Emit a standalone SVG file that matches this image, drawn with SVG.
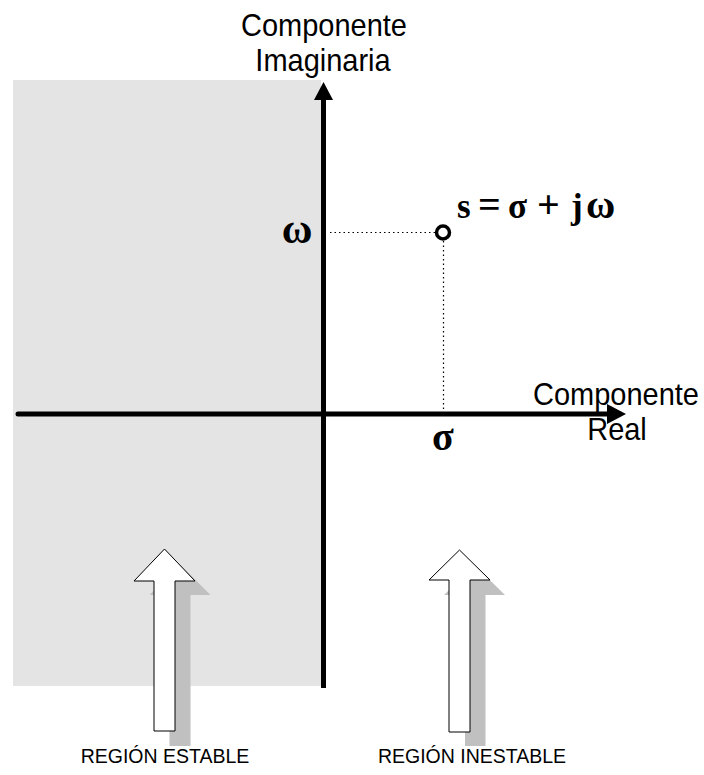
<svg xmlns="http://www.w3.org/2000/svg" width="704" height="775" viewBox="0 0 704 775">
<defs>
<style>
.lbl{font-family:"Liberation Sans",Arial,sans-serif;fill:#000}
.math{font-family:"Liberation Serif","Times New Roman",serif;font-weight:bold;fill:#000}
.axis{stroke:#000;stroke-width:5;fill:none}
.dot{stroke:#000;stroke-width:1.2;stroke-dasharray:1.5 3;fill:none}
.hollow{fill:#fff;stroke:#000;stroke-width:1}
.shadow{fill:#c0c0c0}
</style>
</defs>
<rect id="stable-region" x="13" y="80" width="308" height="606" fill="#e4e4e4"/>
<g id="connectors">
<line class="axis" x1="18" y1="414" x2="609" y2="414" stroke-linecap="round"/>
<polygon points="607,404 626,414 607,424" fill="#000"/>
<line class="axis" x1="323.5" y1="98" x2="323.5" y2="688"/>
<polygon points="314,100 323.5,82 333,100" fill="#000"/>
<line class="dot" x1="330" y1="232.5" x2="435" y2="232.5"/>
<line class="dot" x1="443.5" y1="241" x2="443.5" y2="410"/>
</g>
<g id="point">
<circle cx="443" cy="232.5" r="6.5" fill="#fff" stroke="#000" stroke-width="3.5"/>
<text class="math" y="218" font-size="35"><tspan x="457">s</tspan><tspan x="478" font-size="40">=</tspan><tspan x="508">σ</tspan><tspan x="537" font-size="40">+</tspan><tspan x="571">j</tspan><tspan x="586" font-size="40">ω</tspan></text>
</g>
<g id="label-imag">
<text class="lbl" transform="translate(324,36) scale(1,1.1)" font-size="29" text-anchor="middle">Componente</text>
<text class="lbl" transform="translate(323,71) scale(1,1.1)" font-size="29" text-anchor="middle">Imaginaria</text>
</g>
<g id="label-real">
<text class="lbl" transform="translate(533,405) scale(1,1.1)" font-size="29">Componente</text>
<text class="lbl" transform="translate(617,440) scale(1,1.1)" font-size="29" text-anchor="middle">Real</text>
</g>
<g id="label-omega">
<text class="math" x="297" y="243" font-size="42" text-anchor="middle">ω</text>
</g>
<g id="label-sigma">
<text class="math" x="443" y="450" font-size="40" text-anchor="middle">σ</text>
</g>
<g id="arrow-stable">
<polygon class="shadow" points="179.5,564 210.5,595 190.5,595 190.5,746 169.5,746 169.5,595 149.5,595"/>
<polygon class="hollow" points="164.5,549 195,581 175,581 175,731 154,731 154,581 134,581"/>
<text class="lbl" transform="translate(165,763) scale(1,1.08)" font-size="19.5" text-anchor="middle">REGIÓN ESTABLE</text>
</g>
<g id="arrow-unstable">
<polygon class="shadow" points="474.5,565 505,595 485.5,595 485.5,746 465,746 465,595 444,595"/>
<polygon class="hollow" points="459.5,550 490,580 470,580 470,732 449,732 449,580 429,580"/>
<text class="lbl" transform="translate(472,763) scale(1,1.08)" font-size="19.5" text-anchor="middle">REGIÓN INESTABLE</text>
</g>
</svg>
